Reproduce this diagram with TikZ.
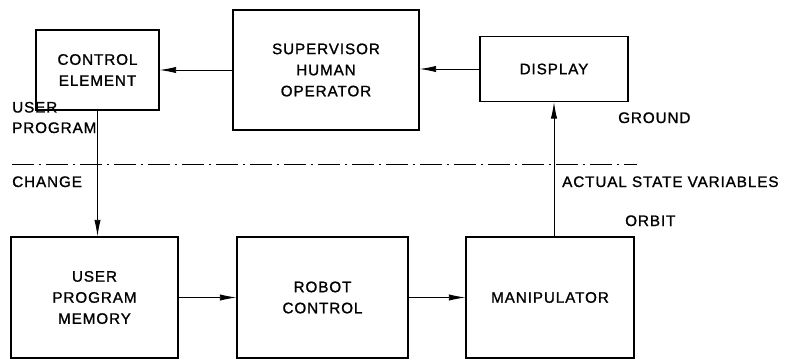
\documentclass[tikz,border=0pt]{standalone}
\usepackage{fontspec}
\setmainfont[LetterSpace=6, FakeBold=1.2]{Liberation Sans}
\usetikzlibrary{arrows.meta}
\begin{document}
\begin{tikzpicture}[x=0.03cm, y=-0.03cm,
    box/.style={draw, line width=0.9pt, align=center, inner sep=0pt, font=\fontsize{13}{18}\selectfont},
    lbl/.style={anchor=base west, inner sep=0pt, align=left, font=\fontsize{13}{17.5}\selectfont},
    flow/.style={line width=0.8pt, -{Latex[length=5mm, width=1.9mm]}}]
    \useasboundingbox (0,0) rectangle (809,360);

    % Ground side
    \node[box, minimum width=3.69cm, minimum height=2.40cm] (ctrl) at (97.5,70) {CONTROL\\ELEMENT};
    \node[box, minimum width=5.58cm, minimum height=3.60cm] (sup) at (326,70) {SUPERVISOR\\HUMAN\\OPERATOR};
    \node[box, minimum width=4.44cm, minimum height=1.95cm] (disp) at (554,69) {DISPLAY};

    % Orbit side
    \node[box, minimum width=5.01cm, minimum height=3.63cm] (mem) at (94.5,297.5) {USER\\PROGRAM\\MEMORY};
    \node[box, minimum width=5.13cm, minimum height=3.63cm] (rc) at (322.5,297.5) {ROBOT\\CONTROL};
    \node[box, minimum width=5.04cm, minimum height=3.63cm] (man) at (550,297.5) {MANIPULATOR};

    % Ground / orbit border
    \coordinate (bl) at (12,164);
    \coordinate (br) at (637,164);
    \draw[line width=0.8pt, dash pattern=on 0.66cm off 0.14cm on 0.08cm off 0.14cm] (bl) -- (br);

    % Labels
    \node[lbl] (upc) at (12,133) {USER\\PROGRAM};
    \node[lbl] (chg) at (12,187) {CHANGE};
    \node[lbl] (gnd) at (618,123) {GROUND};
    \node[lbl] (asv) at (562,187) {ACTUAL STATE VARIABLES};
    \node[lbl] (orb) at (625,226) {ORBIT};

    % Arrows
    \draw[flow] (disp.west) -- (disp.west -| sup.east);
    \draw[flow] (sup.west) -- (ctrl.east);
    \draw[flow] (ctrl.south) -- (ctrl.south |- mem.north);
    \draw[flow] (mem.east) -- (rc.west);
    \draw[flow] (rc.east) -- (man.west);
    \draw[flow] (disp.south |- man.north) -- (disp.south);
\end{tikzpicture}
\end{document}
